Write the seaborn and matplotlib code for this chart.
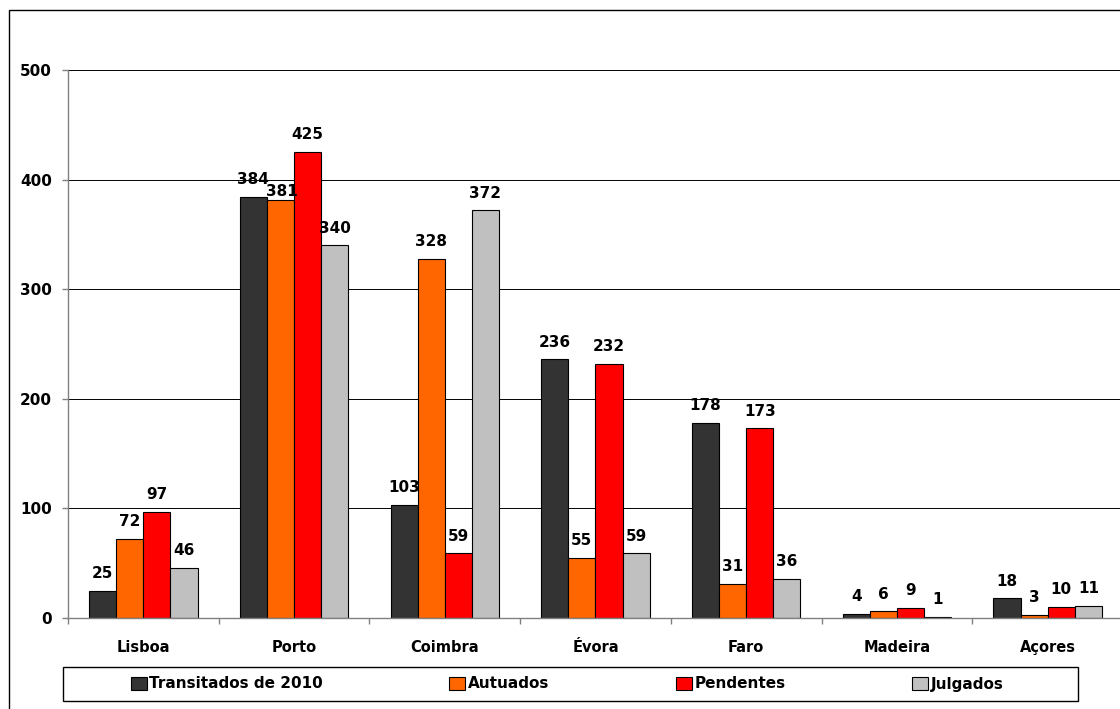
import matplotlib
matplotlib.use("Agg")
import matplotlib.pyplot as plt
import matplotlib.patches as mpatches
import seaborn as sns
import pandas as pd
import numpy as np

categories = ["Lisboa", "Porto", "Coimbra", "Évora", "Faro", "Madeira", "Açores"]
series = ["Transitados de 2010", "Autuados", "Pendentes", "Julgados"]
transitados = [25, 384, 103, 236, 178, 4, 18]
autuados = [72, 381, 328, 55, 31, 6, 3]
pendentes = [97, 425, 59, 232, 173, 9, 10]
julgados = [46, 340, 372, 59, 36, 1, 11]
colors = ["#333333", "#FF6600", "#FF0000", "#C0C0C0"]
yticks = [0, 100, 200, 300, 400, 500]

sns.set_theme(style="white")
plt.rcParams["font.family"] = ["DejaVu Sans"]
plt.rcParams["text.color"] = "black"

rows = []
for s, vals in zip(series, [transitados, autuados, pendentes, julgados]):
    for c, v in zip(categories, vals):
        rows.append({"Regiao": c, "Serie": s, "Valor": v})
df = pd.DataFrame(rows)

W, H = 1120, 709
fig = plt.figure(figsize=(W/100, H/100), dpi=100)
ax = fig.add_axes([68/W, 1-618/H, (1123-68)/W, (618-70)/H])

sns.barplot(data=df, x="Regiao", y="Valor", hue="Serie", order=categories,
            hue_order=series, palette=colors, width=0.72, ax=ax,
            edgecolor="black", linewidth=0.8, saturation=1, legend=True)

all_labels = []
for cont in ax.containers:
    all_labels.append(ax.bar_label(cont, padding=7, fontsize=11, fontweight="bold", color="black"))

# Excel nudged the Porto "Autuados" label down next to its bar to avoid its neighbour
porto_idx = categories.index("Porto")
ann = all_labels[1][porto_idx]
ann.xyann = (1, 1)

ax.set_ylim(0, 500)
ax.set_xlim(-0.5, len(categories) - 0.5)
ax.set_yticks(yticks)
ax.set_yticklabels([str(t) for t in yticks], fontsize=11, fontweight="bold", color="black")
ax.yaxis.grid(True, color="#000000", linewidth=0.7)
ax.set_axisbelow(True)
ax.set_xlabel("")
ax.set_ylabel("")
ax.tick_params(axis="x", which="major", length=0, pad=16, labelsize=10.5, labelcolor="black")
for lbl in ax.get_xticklabels():
    lbl.set_fontweight("bold")
ax.set_xticks(np.arange(-0.5, len(categories), 1.0), minor=True)
ax.tick_params(axis="x", which="minor", length=4.5, color="#808080", width=1, bottom=True)
ax.tick_params(axis="y", length=4.5, color="#808080", width=1, left=True, pad=7)
for side in ["top", "right"]:
    ax.spines[side].set_visible(False)
for side in ["left", "bottom"]:
    ax.spines[side].set_color("#808080")
    ax.spines[side].set_linewidth(1)

handles, labels = ax.get_legend_handles_labels()
ax.get_legend().remove()
leg = fig.legend(handles, labels, loc="center", ncol=4,
                 bbox_to_anchor=(567/W, 1-684/H),
                 frameon=False, handlelength=1.05, handleheight=0.92,
                 handletextpad=0.15, columnspacing=8.3,
                 borderaxespad=0, borderpad=0, prop={"size": 11, "weight": "bold"})
for t in leg.get_texts():
    t.set_color("black")

legbox = mpatches.Rectangle((63/W, 1-701/H), (1078-63)/W, 34/H, transform=fig.transFigure,
                            fill=False, edgecolor="black", linewidth=1)
fig.patches.append(legbox)

border = mpatches.Rectangle((9/W, -0.05), 1.1, 1-10/H+0.05, transform=fig.transFigure,
                            fill=False, edgecolor="black", linewidth=1)
fig.patches.append(border)

fig.savefig("out.png", dpi=100)
